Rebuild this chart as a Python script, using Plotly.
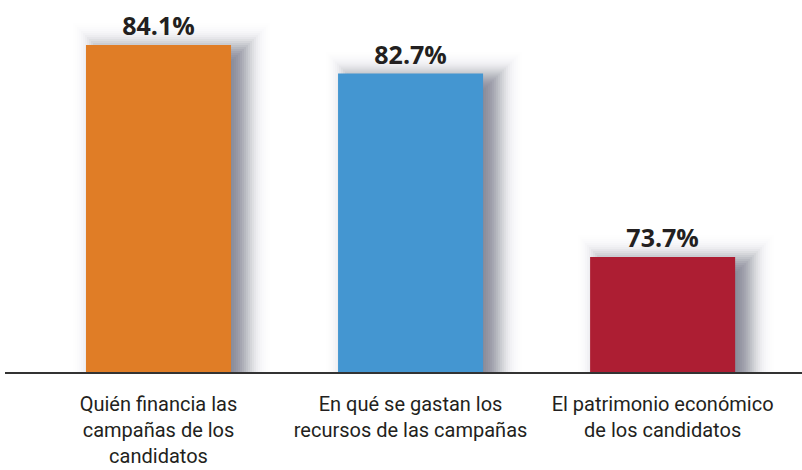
import math
import plotly.graph_objects as go

categories = ["Quién financia las<br>campañas de los<br>candidatos",
              "En qué se gastan los<br>recursos de las campañas",
              "El patrimonio económico<br>de los candidatos"]
values = [84.1, 82.7, 73.7]
labels = ["84.1%", "82.7%", "73.7%"]
colors = ["#E07D26", "#4496D1", "#AD1E33"]

x = [0, 1, 2]
y_min, y_max = 68.06, 86.31
px_x = 1 / 252.0          # data units per pixel (x)
px_y = (y_max - y_min) / 372.0  # data units per pixel (y)
bar_w = 145 * px_x

fig = go.Figure()

# soft (blurred) drop shadow, built from the same values
sigma, step, total = 10.0, 2, 0.9
dx, dy = 13, 4
for r in range(26, -27, -step):
    wgt = step / sigma * math.exp(-0.5 * (r / sigma) ** 2) / math.sqrt(2 * math.pi)
    a = total * wgt
    fig.add_trace(go.Bar(
        x=x, y=[v + (r - dy) * px_y - y_min for v in values], base=y_min,
        width=bar_w + 2 * r * px_x,
        offset=-bar_w / 2 - r * px_x + dx * px_x,
        marker=dict(color=f"rgba(55,60,78,{a:.4f})", line=dict(width=0)),
        hoverinfo="skip", showlegend=False,
    ))

fig.add_trace(go.Bar(
    x=x, y=[v - y_min for v in values], base=y_min, width=bar_w,
    marker=dict(color=colors, line=dict(width=0)),
    text=labels, textposition="outside",
    textfont=dict(family="Open Sans", size=25, color="#231f20", weight="bold"),
    cliponaxis=False, showlegend=False,
))

fig.update_layout(
    width=802, height=470, barmode="overlay",
    margin=dict(l=5, r=0, t=0, b=98),
    paper_bgcolor="white", plot_bgcolor="white",
    xaxis=dict(range=[-0.609, 2.553], tickvals=x, ticktext=categories,
               automargin=False,
               showline=True, linecolor="#333333", linewidth=2,
               ticks="outside", ticklen=13, tickcolor="rgba(0,0,0,0)",
               tickfont=dict(family="Roboto", size=20, color="#231f20"),
               showgrid=False, zeroline=False, fixedrange=True),
    yaxis=dict(range=[y_min, y_max], visible=False, showgrid=False,
               zeroline=False, automargin=False, fixedrange=True),
)

fig.write_html("out.html", config={"displayModeBar": False},
               post_script="document.body.style.margin='0';document.body.style.overflow='hidden';")
